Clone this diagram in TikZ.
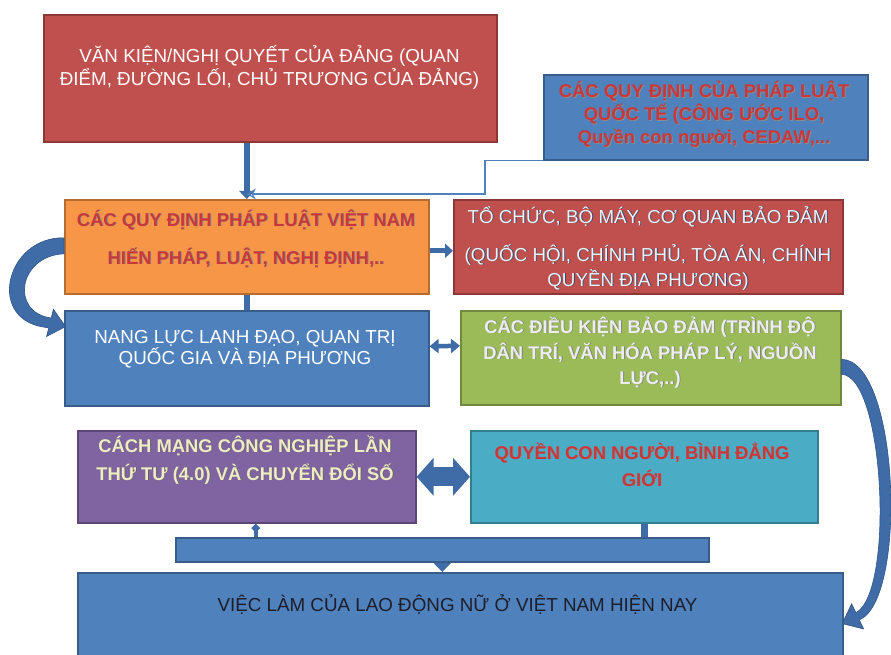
\documentclass[tikz,border=0pt]{standalone}
\usepackage{fontspec}
\setmainfont{Liberation Sans}
\usetikzlibrary{arrows.meta}
\definecolor{cRed}{HTML}{C0504D}\definecolor{cRedB}{HTML}{8C3836}
\definecolor{cBlue}{HTML}{4F81BD}\definecolor{cBlueB}{HTML}{385D8A}
\definecolor{cOrange}{HTML}{F79646}\definecolor{cOrangeB}{HTML}{B66D31}
\definecolor{cGreen}{HTML}{9BBB59}\definecolor{cGreenB}{HTML}{71893F}
\definecolor{cPurple}{HTML}{8064A2}\definecolor{cPurpleB}{HTML}{5C4776}
\definecolor{cCyan}{HTML}{4BACC6}\definecolor{cCyanB}{HTML}{357D91}
\definecolor{cConn}{HTML}{3F6CA7}\definecolor{cConnB}{HTML}{2F5486}
\definecolor{cThin}{HTML}{4F81BD}
\definecolor{tRed}{HTML}{C9373A}
\definecolor{tCream}{HTML}{EEEBC6}
\definecolor{tDark}{HTML}{1E1E2A}
\newcommand\shd[3]{\rlap{\kern.9pt\raisebox{-.9pt}{\color{#1}#3}}{\color{#2}#3}}
\newcommand\redtx[1]{\shd{black!45}{tRed}{#1}}
\newcommand\lighttx[1]{\shd{black!50}{white!93!black}{#1}}
\newcommand\creamtx[1]{\shd{black!60}{tCream}{#1}}
\newcommand\bluetx[1]{\shd{cBlueB!80!black}{white!90!cBlue}{#1}}
\begin{document}
\begin{tikzpicture}[x=1pt,y=-1pt,
  box/.style={draw, line width=1.6pt, anchor=north west, inner sep=0pt},
  ln/.style={anchor=base, inner sep=0pt},
  rg/.style={ln, font=\fontsize{18.8}{22}\selectfont},
  bd/.style={ln, font=\fontsize{18.4}{22}\selectfont\bfseries},
  conn/.style={draw=cConn, line width=6.5pt},
  blockarrow/.style={fill=cConn, draw=cConnB, line width=0.6pt},
]
\useasboundingbox (0,0) rectangle (891,655);
\clip (0,0) rectangle (891,655);
\fill[white] (0,0) rectangle (891,655);

% boxes
\node[box, fill=cRed, draw=cRedB, minimum width=453pt, minimum height=127pt] (vk) at (43,14) {};
\node[box, fill=cBlue, draw=cBlueB, minimum width=324pt, minimum height=85pt] (qt) at (543,74) {};
\node[box, fill=cOrange, draw=cOrangeB, minimum width=364pt, minimum height=94pt] (pl) at (64,199) {};
\node[box, fill=cRed, draw=cRedB, minimum width=389pt, minimum height=94pt] (tc) at (453,199) {};
\node[box, fill=cBlue, draw=cBlueB, minimum width=364pt, minimum height=95pt] (nl) at (64,310) {};
\node[box, fill=cGreen, draw=cGreenB, minimum width=380pt, minimum height=94pt] (dk) at (460,310) {};
\node[box, fill=cPurple, draw=cPurpleB, minimum width=338pt, minimum height=92pt] (cm) at (77,430) {};
\node[box, fill=cCyan, draw=cCyanB, minimum width=347pt, minimum height=92pt] (qc) at (470,430) {};
\node[box, fill=cBlue, draw=cBlueB, minimum width=533pt, minimum height=24pt] (bar) at (175,537) {};
\node[box, fill=cBlue, draw=cBlueB, minimum width=765pt, minimum height=100pt] (vl) at (77,572) {};

% texts
\node[rg, text=white] (vk1) at (269.5,63) {VĂN KIỆN/NGHỊ QUYẾT CỦA ĐẢNG (QUAN};
\node[rg, text=white] (vk2) at (269.5,86) {ĐIỂM, ĐƯỜNG LỐI, CHỦ TRƯƠNG CỦA ĐẢNG)};

\node[bd] (qt1) at (704,98) {\redtx{CÁC QUY ĐỊNH CỦA PHÁP LUẬT}};
\node[bd] (qt2) at (704,121) {\redtx{QUỐC TẾ (CÔNG ƯỚC ILO,}};
\node[bd] (qt3) at (704,144) {\redtx{Quyền con người, CEDAW,...}};

\node[bd] (pl1) at (246,226) {\redtx{CÁC QUY ĐỊNH PHÁP LUẬT VIỆT NAM}};
\node[bd] (pl2) at (246,264) {\redtx{HIẾN PHÁP, LUẬT, NGHỊ ĐỊNH,..}};

\node[rg] (tc1) at (648,223) {\bluetx{TỔ CHỨC, BỘ MÁY, CƠ QUAN BẢO ĐẢM}};
\node[rg] (tc2) at (648,261) {\bluetx{(QUỐC HỘI, CHÍNH PHỦ, TÒA ÁN, CHÍNH}};
\node[rg] (tc3) at (648,286) {\bluetx{QUYỀN ĐỊA PHƯƠNG)}};

\node[rg, text=white] (nl1) at (245,343) {NANG LỰC LANH ĐẠO, QUAN TRỊ};
\node[rg, text=white] (nl2) at (245,364) {QUỐC GIA VÀ ĐỊA PHƯƠNG};

\node[bd] (dk1) at (650,333) {\lighttx{CÁC ĐIỀU KIỆN BẢO ĐẢM (TRÌNH ĐỘ}};
\node[bd] (dk2) at (650,359) {\lighttx{DÂN TRÍ, VĂN HÓA PHÁP LÝ, NGUỒN}};
\node[bd] (dk3) at (650,384) {\lighttx{LỰC,..)}};

\node[bd] (cm1) at (245,452) {\creamtx{CÁCH MẠNG CÔNG NGHIỆP LẦN}};
\node[bd] (cm2) at (245,480) {\creamtx{THỨ TƯ (4.0) VÀ CHUYỂN ĐỔI SỐ}};

\node[bd] (qc1) at (642,459) {\redtx{QUYỀN CON NGƯỜI, BÌNH ĐẲNG}};
\node[bd] (qc2) at (642,486) {\redtx{GIỚI}};

\node[rg, text=tDark] (vl1) at (457.5,611) {VIỆC LÀM CỦA LAO ĐỘNG NỮ Ở VIỆT NAM HIỆN NAY};

% connectors
\draw[conn, -{Triangle[width=15pt,length=8pt]}] (pl.north |- vk.south) -- (pl.north);
\draw[cThin, line width=1.1pt, -{Stealth[length=9pt,width=11pt,open]}]
  (qt.south west) -- ++(-58,0) |- ([yshift=5pt]pl.north);
\draw[conn] (pl.south) -- (nl.north);
\draw[conn, line width=5pt, -{Triangle[width=14pt,length=8pt]}]
  ([yshift=-4pt]pl.east) -- ([yshift=-4pt]tc.west);
\draw[conn, line width=4.5pt, {Triangle[width=14pt,length=9pt]}-{Triangle[width=14pt,length=9pt]}]
  ([yshift=12pt]nl.east) -- ([yshift=12pt]dk.west);
\draw[conn, line width=19pt, {Triangle[width=37pt,length=17pt]}-{Triangle[width=37pt,length=17pt]}]
  (cm.east) -- (qc.west);
\draw[conn, line width=4.5pt, {Diamond[width=9pt,length=9pt]}-]
  ([xshift=9pt]cm.south) -- ([xshift=9pt]cm.south |- bar.north);
\draw[conn] (qc.south) -- (qc.south |- bar.north);
\draw[conn, line width=6pt, -{Triangle[width=17pt,length=9pt]}] (bar.south) -- (bar.south |- vl.north);

% curved block arrows
\filldraw[blockarrow] [shift={(pl.west)}]
  (0,-9) .. controls (-59,-10) and (-79,76) .. (-15.2,80.9)
  -- (-17.4,89.6) -- (1.5,79.8) -- (-10.6,62.4) -- (-12.8,71.2)
  .. controls (-54,66) and (-46,9) .. (0,7) -- cycle;
\filldraw[blockarrow] [shift={(dk.east)}]
  (0,1.5) .. controls (58,2.5) and (66,242.5) .. (17.7,262.1)
  -- (22,271.1) -- (0.7,265.8) -- (10,245.9) -- (14.3,254.9)
  .. controls (53,234.5) and (43,18.5) .. (0,16.5) -- cycle;
\end{tikzpicture}
\end{document}
